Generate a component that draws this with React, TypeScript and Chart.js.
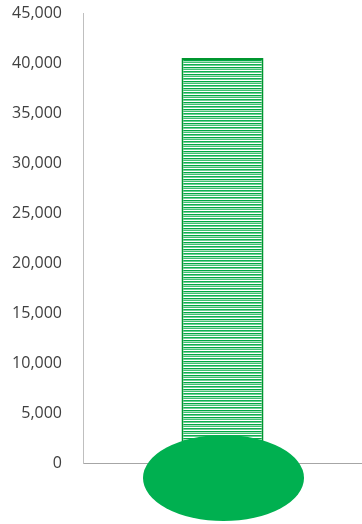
import React, { useEffect, useRef } from "react";
import { Chart, registerables } from "chart.js";

Chart.register(...registerables);

const categories = ["Total"];
const values = [40500];
const yMin = 0;
const yMax = 45000;
const yStep = 5000;

function makePattern(): CanvasPattern | string {
  const c = document.createElement("canvas");
  c.width = 4;
  c.height = 7;
  const ctx = c.getContext("2d");
  if (!ctx) return "#00B050";
  const rows = ["#ffffff", "#10b052", "#6fd095", "#ffffff", "#00a844", "#a6e2bc", "#3fc072"];
  rows.forEach((col, i) => {
    ctx.fillStyle = col;
    ctx.fillRect(0, i, 4, 1);
  });
  return ctx.createPattern(c, "repeat") || "#00B050";
}

const bulbPlugin = {
  id: "bulb",
  afterDatasetsDraw(chart: any) {
    const meta = chart.getDatasetMeta(0);
    const el = meta.data[0];
    if (!el) return;
    const y0 = chart.scales.y.getPixelForValue(0);
    const ctx = chart.ctx;
    ctx.save();
    ctx.beginPath();
    ctx.ellipse(el.x + 1, y0 + 15, 80.5, 43, 0, 0, Math.PI * 2);
    ctx.fillStyle = "#00B050";
    ctx.fill();
    ctx.restore();
  },
};

export default function App() {
  const ref = useRef<HTMLCanvasElement>(null);
  useEffect(() => {
    document.body.style.margin = "0";
    const canvas = ref.current;
    if (!canvas) return;
    const chart = new Chart(canvas, {
      type: "bar",
      data: {
        labels: categories,
        datasets: [
          {
            data: values,
            backgroundColor: makePattern() as any,
            borderColor: "#00962f",
            borderWidth: 2,
            categoryPercentage: 1,
            barPercentage: 0.294,
          },
        ],
      },
      options: {
        animation: false,
        responsive: false,
        maintainAspectRatio: false,
        layout: { padding: { top: 13, bottom: 61, left: 0, right: 0 } },
        plugins: { legend: { display: false }, tooltip: { enabled: false } },
        scales: {
          x: {
            grid: { display: false, drawTicks: false },
            border: { display: true, color: "#a6a6a6", width: 1 },
            ticks: { display: false },
          },
          y: {
            min: yMin,
            max: yMax,
            grid: { display: false, drawTicks: false },
            border: { display: true, color: "#bfbfbf", width: 1 },
            afterFit: (s: any) => {
              s.width = 83;
              s.paddingTop = 0;
              s.paddingBottom = 0;
            },
            ticks: {
              stepSize: yStep,
              padding: 21,
              color: "#404040",
              font: { family: "'Open Sans', sans-serif", size: 16 },
              callback: (v: any) => Number(v).toLocaleString("en-US"),
            },
          },
        },
      },
      plugins: [bulbPlugin],
    });
    return () => chart.destroy();
  }, []);
  return <canvas ref={ref} width={362} height={524} style={{ display: "block" }} />;
}
